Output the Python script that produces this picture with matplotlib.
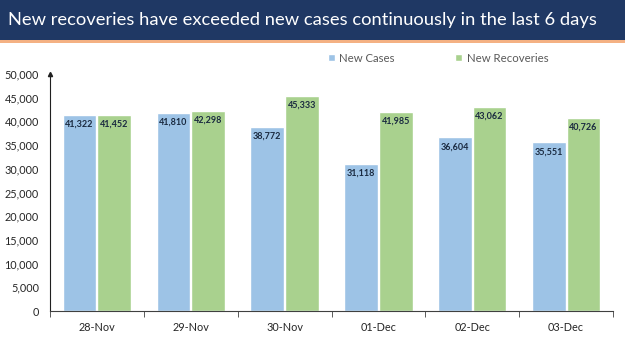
import matplotlib
matplotlib.use("Agg")
import matplotlib.pyplot as plt
import numpy as np
from matplotlib.patches import Rectangle

dates = ["28-Nov", "29-Nov", "30-Nov", "01-Dec", "02-Dec", "03-Dec"]
new_cases = [41322, 41810, 38772, 31118, 36604, 35551]
new_recoveries = [41452, 42298, 45333, 41985, 43062, 40726]
yticks = list(range(0, 50001, 5000))

plt.rcParams['font.family'] = ['Lato', 'DejaVu Sans']

fig = plt.figure(figsize=(6.25, 3.51), dpi=100)
fig.patch.set_facecolor('white')

# title band
fig.patches.append(Rectangle((0, 1 - 40/351), 1, 40/351, transform=fig.transFigure,
                             facecolor='#1f3864', edgecolor='none', zorder=0))
fig.patches.append(Rectangle((0, 1 - 43/351), 1, 3/351, transform=fig.transFigure,
                             facecolor='#f4b183', edgecolor='none', zorder=0))
fig.text(0.013, 1 - 20/351, "New recoveries have exceeded new cases continuously in the last 6 days",
         color='white', fontsize=13.2, va='center', ha='left')

ax = fig.add_axes([50/625, 40/351, 563/625, (311-74)/351])
x = np.arange(len(dates))
w = 0.36
c_blue = '#9dc3e6'
c_green = '#a9d18e'
b1 = ax.bar(x - w/2 - 0.005, new_cases, w, color=c_blue, edgecolor='white', linewidth=1, label='New Cases')
b2 = ax.bar(x + w/2 + 0.005, new_recoveries, w, color=c_green, edgecolor='white', linewidth=1, label='New Recoveries')

for bars, vals in ((b1, new_cases), (b2, new_recoveries)):
    for r, v in zip(bars, vals):
        ax.text(r.get_x() + r.get_width()/2, v - 1000, f"{v:,}", ha='center', va='top',
                fontsize=6.5, fontweight='bold', color='#1a2a40')

ax.set_xlim(-0.5, len(dates) - 0.5)
ax.set_ylim(0, 50000)
ax.set_yticks(yticks)
ax.set_yticklabels([f"{t:,}" for t in yticks], fontsize=7.8, color='#262626')
ax.set_xticks(x)
ax.set_xticklabels(dates, fontsize=7.8, color='#262626')
ax.tick_params(axis='x', length=0, pad=8)
ax.tick_params(axis='y', length=0, pad=8)
ax.set_xticks(np.arange(-0.5, len(dates)), minor=True)
ax.tick_params(axis='x', which='minor', length=4, direction='out', color='#404040')
for s in ('top', 'right'):
    ax.spines[s].set_visible(False)
ax.spines['left'].set_color('#202020')
ax.spines['bottom'].set_color('#404040')
ax.plot(0, 1, marker='^', transform=ax.transAxes, color='#202020', markersize=3, clip_on=False)

leg = fig.legend(handles=[b1, b2], labels=['New Cases', 'New Recoveries'],
                 loc='center', bbox_to_anchor=(438/625, 1 - 58/351), ncol=2,
                 frameon=False, fontsize=8.2, handlelength=0.6, handleheight=0.6,
                 handletextpad=0.4, columnspacing=5.3)
for t in leg.get_texts():
    t.set_color('#595959')

fig.savefig('out.png', dpi=100)
